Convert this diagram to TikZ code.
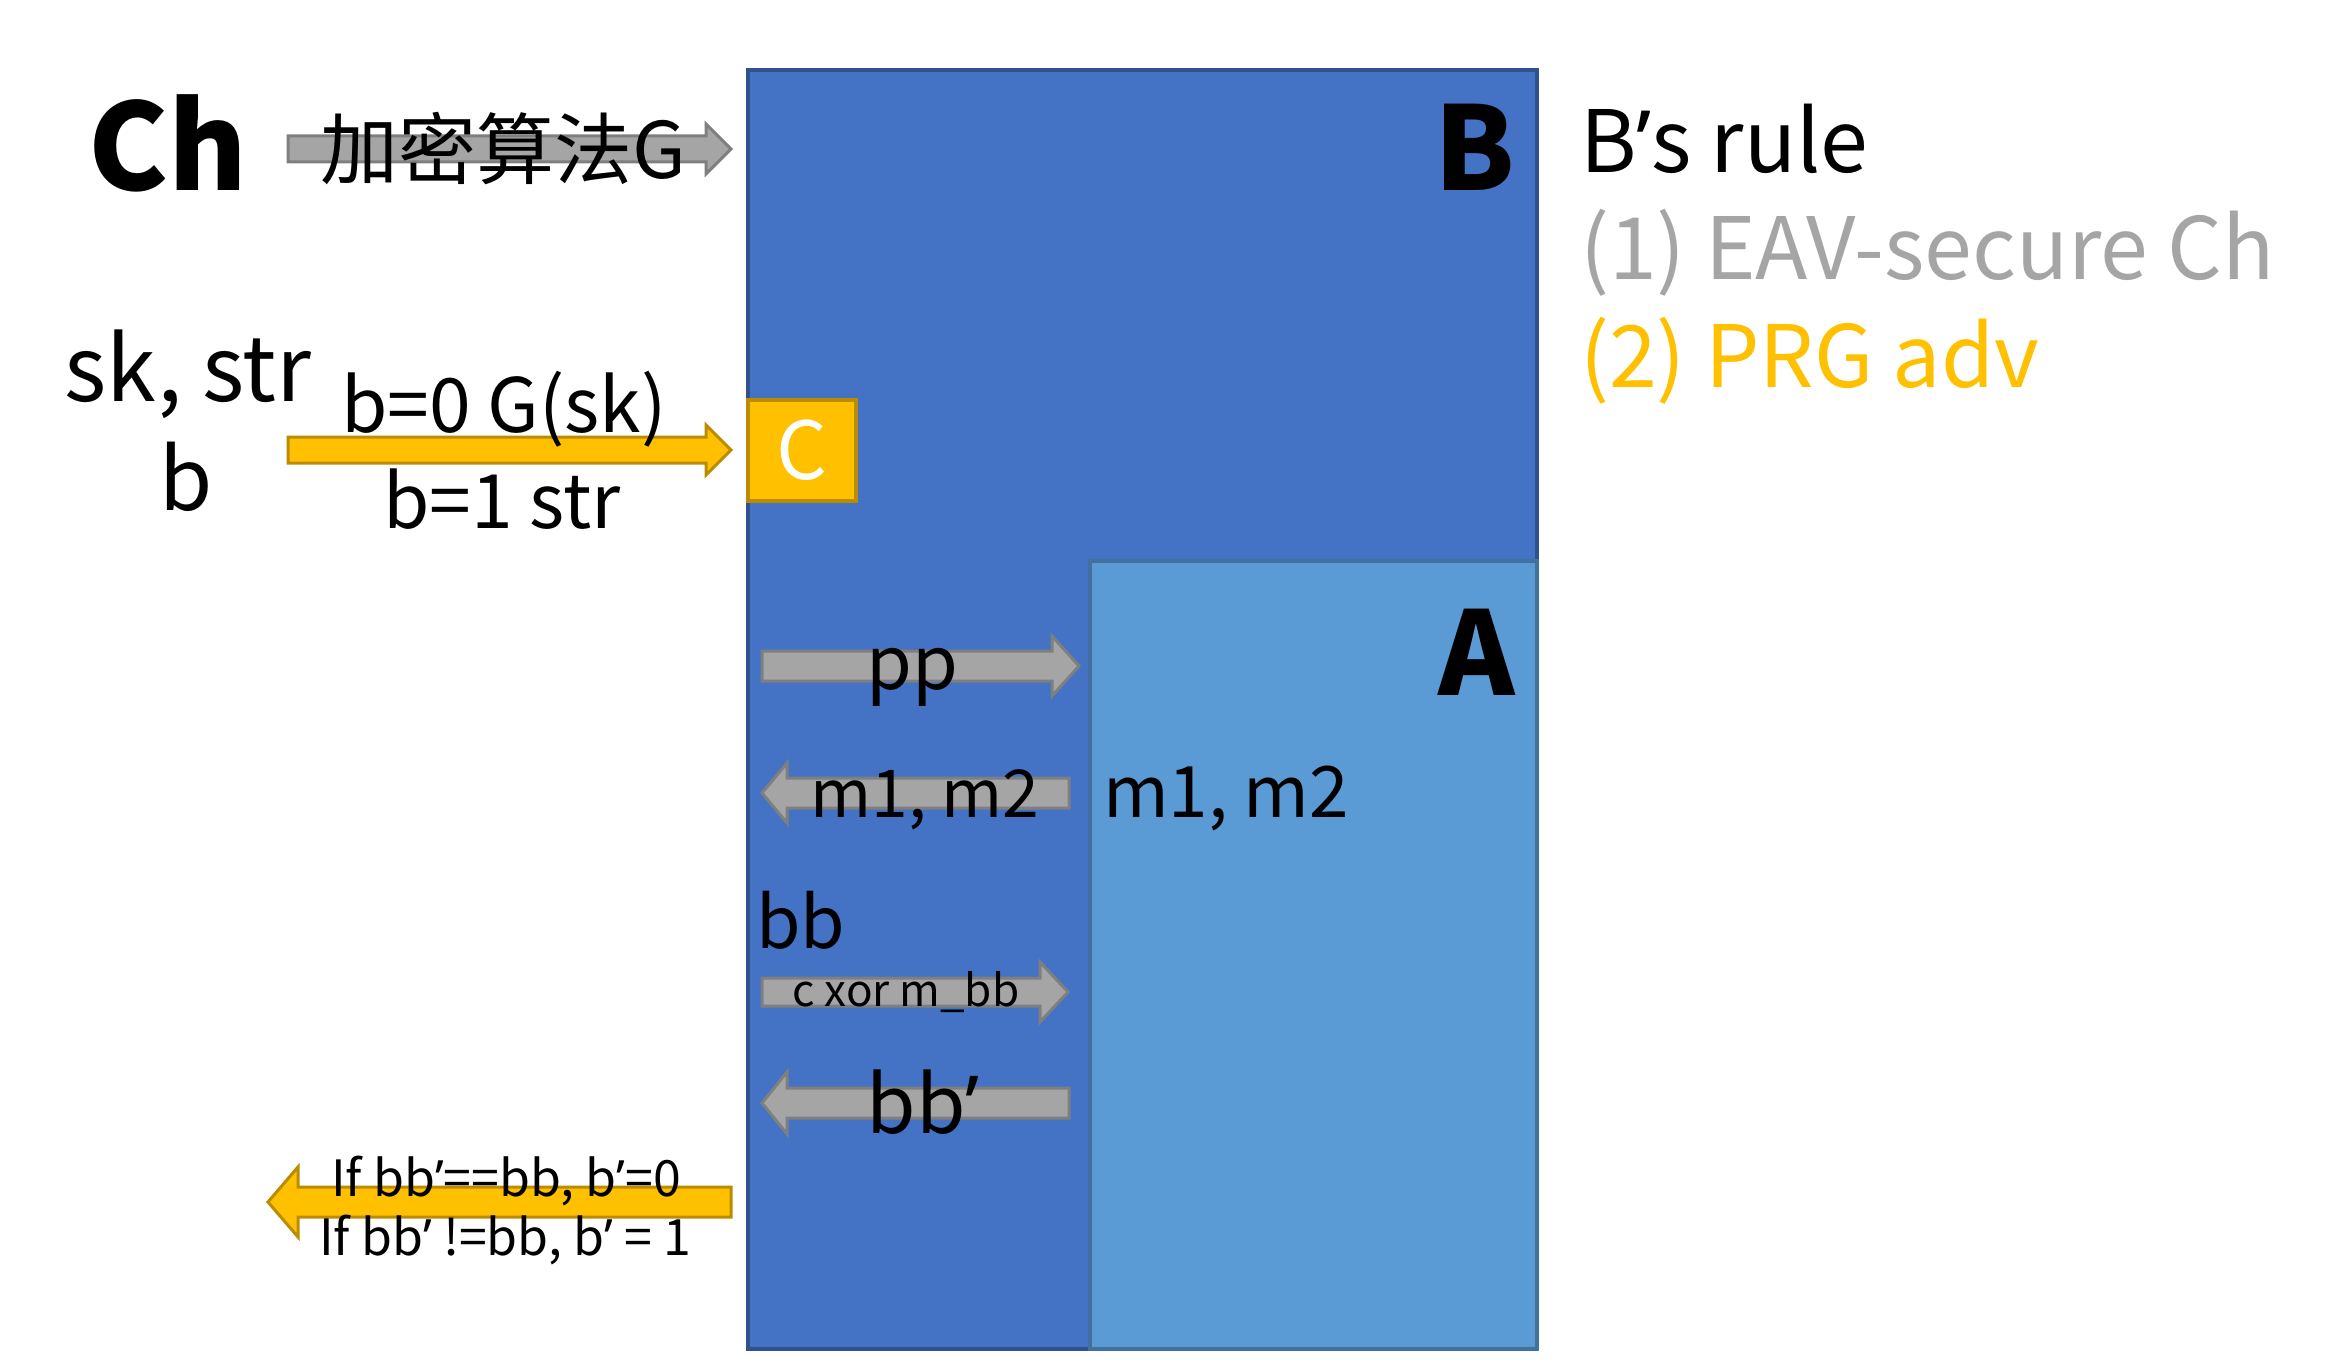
\documentclass[tikz,border=0pt]{standalone}
\usepackage{fontspec}
\setmainfont{Noto Sans CJK SC}
\newfontfamily\lat{Noto Sans}
\newcommand\q{{\lat ’}}
\definecolor{bfill}{HTML}{4472C4}
\definecolor{bdraw}{HTML}{2F528F}
\definecolor{afill}{HTML}{5B9BD5}
\definecolor{adraw}{HTML}{41719C}
\definecolor{yfill}{HTML}{FFC000}
\definecolor{ydraw}{HTML}{BC8C00}
\definecolor{gfill}{HTML}{A5A5A5}
\definecolor{gdraw}{HTML}{7F7F7F}
\newcommand\blockR[7]{\draw[#1] (#2,{#4-#5}) -- ({#3-#7},{#4-#5}) -- ({#3-#7},{#4-#6}) -- (#3,#4) -- ({#3-#7},{#4+#6}) -- ({#3-#7},{#4+#5}) -- (#2,{#4+#5}) -- cycle;}
\newcommand\blockL[7]{\draw[#1] (#3,{#4-#5}) -- ({#2+#7},{#4-#5}) -- ({#2+#7},{#4-#6}) -- (#2,#4) -- ({#2+#7},{#4+#6}) -- ({#2+#7},{#4+#5}) -- (#3,{#4+#5}) -- cycle;}
\newcommand\fs[1]{\fontsize{#1}{#1}\selectfont}
\tikzset{
  garrow/.style={fill=gfill, draw=gdraw, line width=3pt},
  yarrow/.style={fill=yfill, draw=ydraw, line width=3pt},
  lbl/.style={inner sep=0pt, outer sep=0pt, anchor=base},
  lbll/.style={inner sep=0pt, outer sep=0pt, anchor=base west},
}
\begin{document}
\begin{tikzpicture}[x=1pt,y=-1pt]
\useasboundingbox (0,0) rectangle (2338,1364);
% boxes
\draw[fill=bfill, draw=bdraw, line width=4pt] (748,70) rectangle (1537,1349);
\draw[fill=afill, draw=adraw, line width=4pt] (1090,561) rectangle (1537,1349);
\draw[fill=yfill, draw=ydraw, line width=4pt] (748,400) rectangle (856,501);
\node[lbl, text=white] (c) at (802,479) {\fs{80}C};
% arrows
\blockR{garrow}{288}{731}{149}{13}{25}{25}
\blockR{yarrow}{288}{731}{450}{13}{25}{25}
\blockR{garrow}{762}{1079}{666}{15}{30}{27}
\blockL{garrow}{762}{1069}{793}{15}{30}{25}
\blockR{garrow}{762}{1068}{992}{14}{30}{28}
\blockL{garrow}{762}{1069}{1103}{15}{31}{25}
\blockL{yarrow}{268}{731}{1202}{15}{35}{30}
% labels
\node[lbl] (ch) at (168,191) {\fs{120}\bfseries Ch};
\node[lbl] (g) at (503,179) {\fs{78}加密算法G};
\node[lbl] (skstr) at (188,401) {\fs{90}sk, str};
\node[lbl] (b) at (186,510) {\fs{86}b};
\node[lbl] (b0) at (504,432) {\fs{75}b=0 G(sk)};
\node[lbl] (b1) at (502,528) {\fs{75}b=1 str};
\node[lbl] (B) at (1475,191) {\fs{116}\bfseries B};
\node[lbl] (A) at (1477,695) {\fs{116}\bfseries A};
\node[lbll] (rule) at (1580,173) {\fs{86}B\q s rule};
\node[lbll, text=gfill] (r1) at (1580,280) {\fs{86}(1) EAV-secure Ch};
\node[lbll, text=yfill] (r2) at (1580,388) {\fs{86}(2) PRG adv};
\node[lbl] (pp) at (912,689) {\fs{74}pp};
\node[lbl] (m12a) at (925,817) {\fs{66}m1, m2};
\node[lbll] (m12b) at (1103,817) {\fs{71}m1, m2};
\node[lbll] (bb) at (756,948) {\fs{72}bb};
\node[lbl] (cx) at (906,1006) {\fs{44}c xor m\_bb};
\node[lbl] (bbp) at (923,1133) {\fs{80}bb\q};
\node[lbl] (if1) at (506,1196) {\fs{50}If bb\q==bb, b\q=0};
\node[lbl] (if2) at (505,1255) {\fs{50}If bb\q\ !=bb, b\q\ = 1};
\end{tikzpicture}
\end{document}
